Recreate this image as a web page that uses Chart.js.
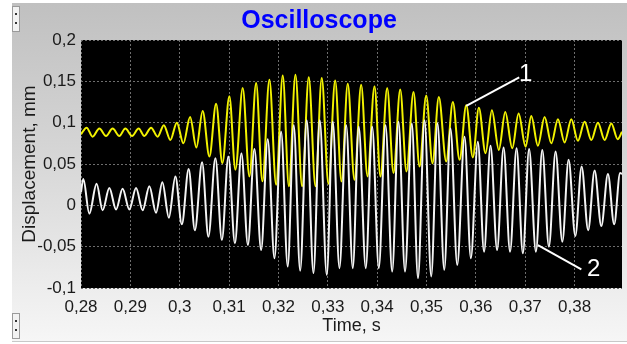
<!DOCTYPE html>
<html>
<head>
<meta charset="utf-8">
<script src="https://cdn.jsdelivr.net/npm/chart.js@4.4.1/dist/chart.umd.min.js"></script>
<style>
  html, body { margin: 0; padding: 0; background: #fff; }
  #wrap { position: relative; width: 627px; height: 344px; overflow: hidden; }
  #bg { position: absolute; left: 12px; top: 3px; width: 615px; height: 338px;
        background: linear-gradient(#c0c0c0, #d6d6d6 45%, #f6f6f6); border-bottom: 1px solid #c8c8c8; }
  #scope { position: absolute; left: 0; top: 0; }
  .knob { position: absolute; left: 12px; width: 6px; height: 24px; border: 1px solid #9a9a9a; background: #f2f2f2; }
  .knob i { position: absolute; left: 2px; width: 2px; height: 2px; background: #333; }
</style>
</head>
<body>
<div id="wrap">
  <div id="bg"></div>
  <div class="knob" style="top:6px"><i style="top:6px"></i><i style="top:15px"></i></div>
  <div class="knob" style="top:313px"><i style="top:6px"></i><i style="top:15px"></i></div>
  <canvas id="scope" width="627" height="344"></canvas>
</div>
<script>
// extrema, curve 1 (yellow)
const peakTime1 = [0.28114, 0.28371, 0.28641, 0.28898, 0.29168, 0.29419, 0.29678, 0.29942, 0.30210, 0.30465,
  0.30737, 0.31006, 0.31276, 0.31548, 0.31817, 0.32087, 0.32344, 0.32614, 0.32877, 0.33149,
  0.33404, 0.33676, 0.33946, 0.34203, 0.34467, 0.34736, 0.34994, 0.35249, 0.35533, 0.35805,
  0.36060, 0.36324, 0.36595, 0.36865, 0.37122, 0.37392, 0.37662, 0.37933, 0.38203, 0.38472, 0.38744];
const peak1 = [0.094, 0.093, 0.093, 0.093, 0.093, 0.094, 0.097, 0.100, 0.107, 0.114,
  0.123, 0.132, 0.142, 0.148, 0.152, 0.157, 0.158, 0.155, 0.154, 0.151,
  0.147, 0.146, 0.144, 0.142, 0.140, 0.137, 0.133, 0.131, 0.125, 0.121,
  0.118, 0.115, 0.113, 0.111, 0.108, 0.107, 0.104, 0.104, 0.101, 0.100, 0.099];
const troughTime1 = [0.28235, 0.28507, 0.28776, 0.29034, 0.29283, 0.29553, 0.29810, 0.30074, 0.30337, 0.30601,
  0.30864, 0.31128, 0.31412, 0.31675, 0.31953, 0.32212, 0.32480, 0.32750, 0.33013, 0.33277,
  0.33540, 0.33804, 0.34067, 0.34331, 0.34594, 0.34858, 0.35121, 0.35399, 0.35669, 0.35938,
  0.36196, 0.36465, 0.36737, 0.37007, 0.37256, 0.37528, 0.37797, 0.38067, 0.38339, 0.38608, 0.38872];
const trough1 = [0.083, 0.084, 0.084, 0.084, 0.084, 0.083, 0.079, 0.075, 0.070, 0.059,
  0.051, 0.043, 0.035, 0.029, 0.025, 0.023, 0.023, 0.023, 0.026, 0.029,
  0.031, 0.035, 0.035, 0.039, 0.041, 0.047, 0.051, 0.053, 0.055, 0.058,
  0.063, 0.067, 0.069, 0.071, 0.072, 0.075, 0.076, 0.078, 0.079, 0.079, 0.080];

// curve 2 (white)
const peakTime2 = [0.28047, 0.28316, 0.28574, 0.28843, 0.29115, 0.29385, 0.29648, 0.29912, 0.30181, 0.30453,
  0.30723, 0.30986, 0.31250, 0.31513, 0.31783, 0.32054, 0.32310, 0.32573, 0.32837, 0.33100,
  0.33372, 0.33627, 0.33899, 0.34169, 0.34432, 0.34702, 0.34959, 0.35223, 0.35486, 0.35770,
  0.36040, 0.36297, 0.36561, 0.36824, 0.37078, 0.37345, 0.37615, 0.37878, 0.38142, 0.38405, 0.38675, 0.38922];
const peak2 = [0.032, 0.026, 0.021, 0.020, 0.021, 0.023, 0.028, 0.035, 0.044, 0.052,
  0.057, 0.059, 0.063, 0.068, 0.080, 0.089, 0.097, 0.103, 0.103, 0.101,
  0.097, 0.095, 0.095, 0.097, 0.101, 0.099, 0.103, 0.099, 0.093, 0.083,
  0.077, 0.072, 0.070, 0.069, 0.068, 0.067, 0.065, 0.055, 0.047, 0.042, 0.038, 0.039];
const troughTime2 = [0.28168, 0.28438, 0.28710, 0.28979, 0.29249, 0.29520, 0.29780, 0.30043, 0.30307, 0.30581,
  0.30854, 0.31118, 0.31381, 0.31649, 0.31919, 0.32188, 0.32440, 0.32709, 0.32979, 0.33236,
  0.33506, 0.33769, 0.34033, 0.34304, 0.34564, 0.34827, 0.35095, 0.35359, 0.35622, 0.35898,
  0.36165, 0.36429, 0.36692, 0.36952, 0.37216, 0.37479, 0.37751, 0.38014, 0.38274, 0.38541, 0.38801];
const trough2 = [-0.010, -0.006, -0.005, -0.005, -0.006, -0.009, -0.015, -0.023, -0.030, -0.038,
  -0.042, -0.046, -0.048, -0.054, -0.064, -0.074, -0.079, -0.082, -0.084, -0.076,
  -0.076, -0.076, -0.076, -0.080, -0.080, -0.088, -0.086, -0.078, -0.072, -0.064,
  -0.056, -0.054, -0.056, -0.058, -0.056, -0.050, -0.044, -0.037, -0.030, -0.025, -0.023];

// values where the traces enter and leave the window
const edgeTime = [0.28, 0.3896];
const edge1 = [0.086, 0.089];
const edge2 = [0.016, 0.038];

const xTicks = [0.28, 0.29, 0.30, 0.31, 0.32, 0.33, 0.34, 0.35, 0.36, 0.37, 0.38];
const yTicks = [-0.1, -0.05, 0, 0.05, 0.1, 0.15, 0.2];

// callout lines and numbers, in data units
const callouts = [
  { label: '1', from: [0.35805, 0.1202], to: [0.36878, 0.1549], at: [0.37007, 0.1601] },
  { label: '2', from: [0.37256, -0.0480], to: [0.38136, -0.0774], at: [0.38385, -0.0758] }
];

const FONT = "'Liberation Sans', Arial, sans-serif";

function buildTrace(pt, pv, tt, tv, ev) {
  let pts = [];
  pts.push({ x: edgeTime[0], y: ev[0] });
  pt.forEach((t, i) => pts.push({ x: t, y: pv[i] }));
  tt.forEach((t, i) => pts.push({ x: t, y: tv[i] }));
  pts.push({ x: edgeTime[1], y: ev[1] });
  pts.sort((a, b) => a.x - b.x);
  return pts;
}

function comma(v) {
  return String(+Number(v).toFixed(3)).replace('.', ',');
}

const scopePlugin = {
  id: 'scope',
  beforeDraw(chart) {
    let a = chart.chartArea, ctx = chart.ctx;
    ctx.save();
    ctx.fillStyle = '#000';
    ctx.fillRect(a.left, a.top, a.right - a.left, a.bottom - a.top);
    ctx.restore();
  },
  afterDatasetsDraw(chart) {
    let ctx = chart.ctx, xs = chart.scales.x, ys = chart.scales.y;
    ctx.save();
    ctx.strokeStyle = '#fff';
    ctx.fillStyle = '#fff';
    ctx.lineWidth = 2;
    ctx.font = '24px ' + FONT;
    ctx.textAlign = 'center';
    ctx.textBaseline = 'middle';
    callouts.forEach(c => {
      ctx.beginPath();
      ctx.moveTo(xs.getPixelForValue(c.from[0]), ys.getPixelForValue(c.from[1]));
      ctx.lineTo(xs.getPixelForValue(c.to[0]), ys.getPixelForValue(c.to[1]));
      ctx.stroke();
      ctx.fillText(c.label, xs.getPixelForValue(c.at[0]), ys.getPixelForValue(c.at[1]) + 1);
    });
    ctx.restore();
  },
  afterDraw(chart) {
    let ctx = chart.ctx;
    ctx.save();
    ctx.fillStyle = '#0000ff';
    ctx.font = 'bold 25px ' + FONT;
    ctx.textAlign = 'center';
    ctx.textBaseline = 'middle';
    ctx.fillText('Oscilloscope', 319, 21);
    ctx.restore();
  }
};

new Chart(document.getElementById('scope'), {
  type: 'line',
  data: {
    datasets: [
      {
        label: '2',
        data: buildTrace(peakTime2, peak2, troughTime2, trough2, edge2),
        borderColor: '#f4f4f4',
        borderWidth: 2,
        pointRadius: 0,
        cubicInterpolationMode: 'monotone',
        fill: false
      },
      {
        label: '1',
        data: buildTrace(peakTime1, peak1, troughTime1, trough1, edge1),
        borderColor: '#f2f200',
        borderWidth: 2,
        pointRadius: 0,
        cubicInterpolationMode: 'monotone',
        fill: false
      }
    ]
  },
  options: {
    responsive: false,
    animation: false,
    events: [],
    layout: { padding: { left: 0, right: 5, top: 40, bottom: 0 } },
    plugins: { legend: { display: false }, tooltip: { enabled: false }, title: { display: false } },
    scales: {
      x: {
        type: 'linear',
        min: 0.28,
        max: 0.3896,
        afterBuildTicks: s => { s.ticks = xTicks.map(v => ({ value: v })); },
        afterFit: s => { s.height = 56; },
        ticks: { autoSkip: false, maxRotation: 0, padding: 9,
                 color: '#1a1a1a', font: { family: FONT, size: 17 }, callback: comma },
        grid: { color: '#6e6e6e', lineWidth: 1, drawTicks: false },
        border: { display: false, dash: [2, 2] },
        title: { display: true, text: 'Time, s', color: '#1a1a1a',
                 font: { family: FONT, size: 18 }, padding: { top: 0, bottom: 7 } }
      },
      y: {
        min: -0.1,
        max: 0.2,
        afterBuildTicks: s => { s.ticks = yTicks.map(v => ({ value: v })); },
        afterFit: s => { s.width = 81; },
        ticks: { padding: 5, color: '#1a1a1a', font: { family: FONT, size: 17 }, callback: comma },
        grid: { color: '#6e6e6e', lineWidth: 1, drawTicks: false },
        border: { display: false, dash: [2, 2] },
        title: { display: true, text: 'Displacement, mm', color: '#1a1a1a',
                 font: { family: FONT, size: 19 }, padding: { top: 18, bottom: 0 } }
      }
    }
  },
  plugins: [scopePlugin]
});
</script>
</body>
</html>
